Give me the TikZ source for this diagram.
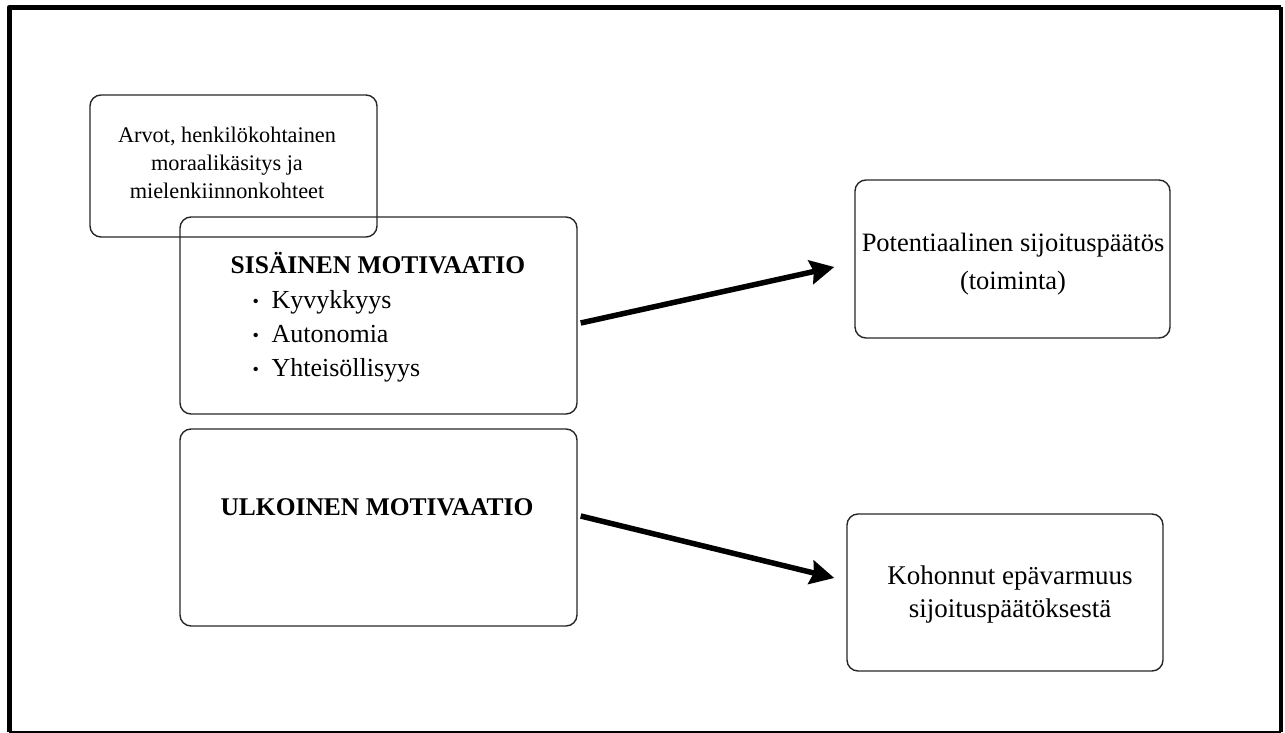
\documentclass[tikz,border=0pt]{standalone}
\usepackage{fontspec}
\setmainfont{Liberation Serif}
\usetikzlibrary{arrows.meta}

\newcommand{\bul}{\makebox[19pt][l]{\raisebox{1pt}{\scalebox{0.7}{\textbullet}}}}

\begin{document}
\begin{tikzpicture}[x=1pt,y=-1pt,>={Stealth[length=24pt,width=24pt,inset=3pt]},
                    line join=round]
  \tikzstyle{box}=[draw=black!85,line width=1.4pt,rounded corners=11pt,inner sep=0pt]
  \tikzstyle{big}=[font=\fontsize{26}{34}\selectfont]
  \tikzstyle{head}=[font=\fontsize{25.5}{34}\selectfont\bfseries]
  \tikzstyle{arr}=[->,line width=5.5pt]

  \useasboundingbox (0,0) rectangle (1285,733);

  % frame
  \draw[line width=5pt] (9,732) -- (9,7.5) -- (1281,7.5);
  \draw[line width=4pt] (1281,7.5) -- (1281,732);
  \draw[line width=2pt] (9,731.5) -- (1281,731.5);

  \node[box,minimum width=287pt,minimum height=142pt] (arvot) at (233.5,166) {};
  \node[box,minimum width=397pt,minimum height=197pt] (sis) at (378.5,315.5) {};
  \node[box,minimum width=397pt,minimum height=197pt] (ulk) at (378.5,527.5) {};
  \node[box,minimum width=315pt,minimum height=158pt] (pot) at (1012.5,259) {};
  \node[box,minimum width=316pt,minimum height=157pt] (koh) at (1005,592.5) {};

  \node[align=center,font=\fontsize{22.3}{28}\selectfont] (arvott) at (227,163)
    {Arvot, henkilökohtainen\\moraalikäsitys ja\\mielenkiinnonkohteet};
  \node[head] (sist) at (378,263) {SISÄINEN MOTIVAATIO};
  \node[big,align=left,anchor=west] (sisl) at (249,336)
    {\bul Kyvykkyys\\\bul Autonomia\\\bul Yhteisöllisyys};
  \node[head] (ulkt) at (377,507) {ULKOINEN MOTIVAATIO};
  \node[align=center,font=\fontsize{26.5}{38}\selectfont] (pott) at (1013,264)
    {Potentiaalinen sijoituspäätös\\(toiminta)};
  \node[align=center,font=\fontsize{27}{33}\selectfont] (koht) at (1010,594.5)
    {Kohonnut epävarmuus\\sijoituspäätöksestä};

  \draw[arr] ([shift={(3,7.5)}]sis.east) -- ([shift={(-20,8)}]pot.west);
  \draw[arr] ([shift={(3,-11.5)}]ulk.east) -- ([shift={(-12,-14.5)}]koh.west);

\end{tikzpicture}
\end{document}
